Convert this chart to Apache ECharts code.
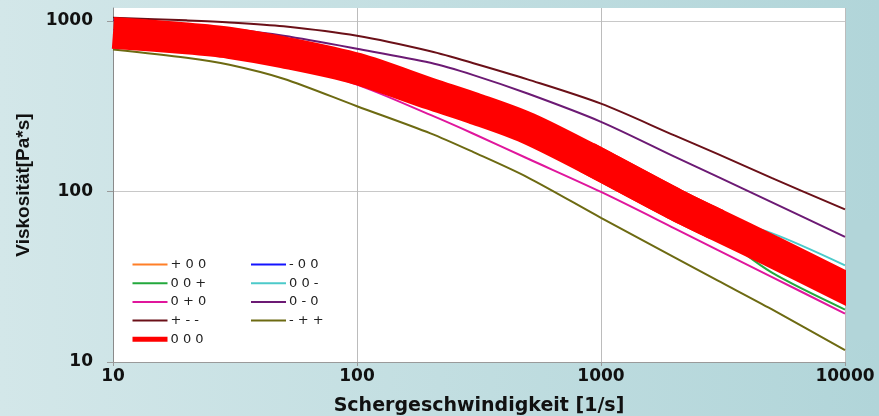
<!DOCTYPE html>
<html>
<head>
<meta charset="utf-8">
<script src="https://cdn.jsdelivr.net/npm/echarts@6/dist/echarts.min.js"></script>
<style>
  html, body { margin: 0; padding: 0; }
  #chart { width: 879px; height: 416px; }
</style>
</head>
<body>
<div id="chart"></div>
<script>
// shear rate [1/s]
var shear = [10, 20, 30, 50, 100, 200, 300, 500, 1000, 2000, 3000, 5000, 10000];

// viscosity [Pa*s], one list per factor combination
var plusZeroZero  = [830, 770, 725, 635, 508, 362, 298, 228, 138, 81, 61, 43, 26];       // + 0 0
var minusZeroZero = [880, 815, 765, 675, 540, 385, 318, 244, 148, 88, 66, 46.5, 28.5];   // - 0 0
var zeroZeroPlus  = [840, 780, 735, 640, 505, 355, 290, 225, 132, 76, 56, 33.5, 20.3];   // 0 0 +
var zeroZeroMinus = [870, 810, 760, 670, 540, 390, 322, 250, 152, 92, 70, 57, 36.9];     // 0 0 -
var zeroPlusZero  = [785, 714, 667, 568, 423, 281, 218, 156, 99.3, 60.8, 45.4, 31.6, 19.2]; // 0 + 0
var zeroMinusZero = [1010, 947, 898, 817, 686, 568, 481, 375, 256, 160, 122, 86.5, 54.2];  // 0 - 0
var plusMinusMinus = [1045, 1007, 980, 929, 817, 663, 565, 454, 327, 213, 166, 120, 78.5]; // + - -
var minusPlusPlus  = [680, 608, 553, 458, 316, 219, 170, 121, 70, 41.1, 30.1, 20.4, 11.75]; // - + +
var centerPoint    = [851, 790, 744, 654, 524, 373, 308, 235, 143, 84.5, 63.6, 44.7, 27.3]; // 0 0 0

var yTicks = [10, 100, 1000];

var chart = echarts.init(document.getElementById('chart'));

function pairs(vals, from, to) {
    var out = [];
    from = from || 0;
    to = (to === undefined) ? shear.length - 1 : to;
    for (var i = from; i <= to; i++)
        out.push([shear[i], vals[i]]);
    return out;
}

function mkLine(name, vals, color, width) {
    return {
        name: name,
        type: 'line',
        data: pairs(vals),
        symbol: 'none',
        smooth: 0.3,
        lineStyle: { color: color, width: width },
        itemStyle: { color: color }
    };
}

// The fat "0 0 0" line is drawn as two overlapping pieces: the right one gets a
// square cap so the end at 10000 fills up to the plot edge (overhang hidden below).
var fatA = mkLine('0 0 0', centerPoint, '#ff0000', 32);
fatA.data = pairs(centerPoint, 0, 10);
var fatB = mkLine('0 0 0', centerPoint, '#ff0000', 32);
fatB.data = pairs(centerPoint, 8, 12);
fatB.lineStyle.cap = 'square';

var series = [
    mkLine('+ 0 0', plusZeroZero, '#ff7f27', 2),
    mkLine('- 0 0', minusZeroZero, '#1414ff', 2),
    mkLine('0 0 +', zeroZeroPlus, '#23a83c', 2),
    mkLine('0 0 -', zeroZeroMinus, '#4ccaca', 2),
    mkLine('0 + 0', zeroPlusZero, '#e0169c', 2),
    mkLine('0 - 0', zeroMinusZero, '#6c1a74', 2),
    mkLine('+ - -', plusMinusMinus, '#6b1018', 2),
    mkLine('- + +', minusPlusPlus, '#6d6a12', 2),
    fatA, fatB   // drawn last, on top
];

function powLabel(v) {
    var l = Math.log10(v);
    return Math.abs(l - Math.round(l)) < 1e-6 ? String(Math.round(v)) : '';
}

var tickFont = { fontFamily: 'DejaVu Sans', fontWeight: 'bold', fontSize: 17, color: '#111' };
var legendCommon = {
    orient: 'vertical',
    top: 258,
    padding: 0,
    itemWidth: 35,
    itemHeight: 14,
    itemGap: 5.7,
    selectedMode: false,
    itemStyle: { opacity: 0 },
    textStyle: { fontFamily: 'DejaVu Sans', fontSize: 13, color: '#222', padding: [0, 0, 0, -2] }
};

chart.setOption({
    backgroundColor: {
        type: 'linear', x: 0, y: 0, x2: 1, y2: 0,
        colorStops: [{ offset: 0, color: '#d3e7e9' }, { offset: 1, color: '#b1d5d9' }]
    },
    animation: false,
    grid: {
        left: 113, right: 34, top: 8, bottom: 54,
        outerBoundsMode: 'none',
        show: true, backgroundColor: '#ffffff', borderWidth: 0
    },
    graphic: [{
        type: 'rect', z: 10, silent: true,
        shape: { x: 846, y: 220, width: 40, height: 120 },
        style: { fill: '#b2d5d9' }
    }],
    legend: [
        Object.assign({}, legendCommon, {
            left: 130,
            data: [
                { name: '+ 0 0' }, { name: '0 0 +' }, { name: '0 + 0' }, { name: '+ - -' },
                { name: '0 0 0', lineStyle: { width: 5 } }
            ]
        }),
        Object.assign({}, legendCommon, {
            left: 250,
            data: ['- 0 0', '0 0 -', '0 - 0', '- + +']
        })
    ],
    xAxis: {
        type: 'log', logBase: 10, min: 10, max: 10000,
        name: 'Schergeschwindigkeit [1/s]',
        nameLocation: 'middle', nameGap: 35,
        nameTextStyle: { fontFamily: 'DejaVu Sans', fontWeight: 'bold', fontSize: 19, color: '#111' },
        axisLine: { lineStyle: { color: '#9a9a9a', width: 1 } },
        axisTick: { show: true, length: 4, lineStyle: { color: '#9a9a9a' } },
        minorTick: { show: false },
        axisLabel: Object.assign({ margin: 6, formatter: powLabel }, tickFont),
        splitLine: { show: true, lineStyle: { color: '#bcbcbc', width: 1 } }
    },
    yAxis: {
        type: 'log', logBase: 10, min: 10, max: 1190,
        name: 'Viskosität[Pa*s]',
        nameLocation: 'middle', nameGap: 80, nameRotate: 90,
        nameTextStyle: { fontFamily: 'Liberation Sans', fontWeight: 'bold', fontSize: 19, color: '#111' },
        axisLine: { show: true, lineStyle: { color: '#8a8a8a', width: 1 } },
        axisTick: { show: true, length: 6, customValues: yTicks, lineStyle: { color: '#9a9a9a' } },
        minorTick: { show: false },
        axisLabel: Object.assign({ margin: 20, customValues: yTicks, formatter: powLabel }, tickFont),
        splitLine: { show: true, lineStyle: { color: ['#c8c8c8', '#c8c8c8', '#c8c8c8', 'rgba(0,0,0,0)'], width: 1 } }
    },
    series: series
});
</script>
</body>
</html>
